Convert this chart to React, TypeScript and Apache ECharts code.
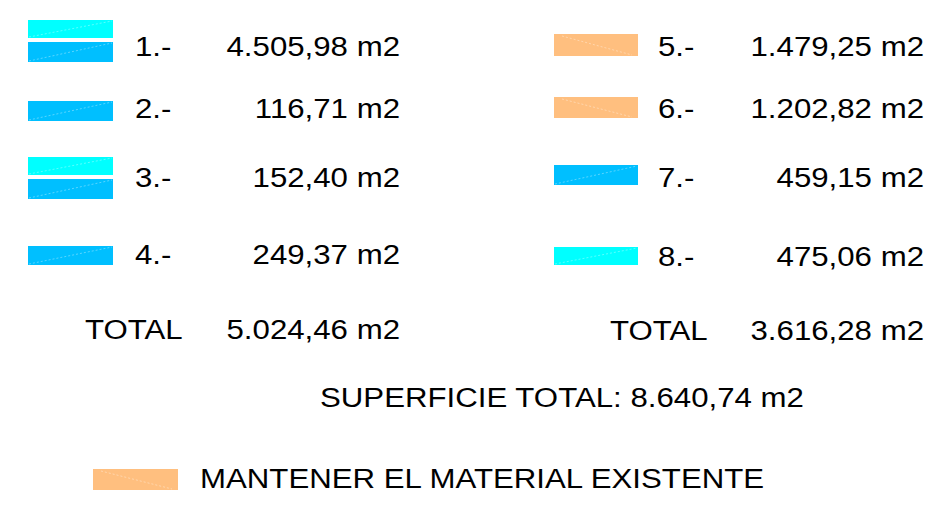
import React, { useEffect, useRef } from "react";
import * as echarts from "echarts";

// ---- data ----
const leftLabels = ["1.-", "2.-", "3.-", "4.-"];
const leftValues = ["4.505,98 m2", "116,71 m2", "152,40 m2", "249,37 m2"];
const leftSwatches = [["#00FFFF", "#00BFFF"], ["#00BFFF"], ["#00FFFF", "#00BFFF"], ["#00BFFF"]];
const rightLabels = ["5.-", "6.-", "7.-", "8.-"];
const rightValues = ["1.479,25 m2", "1.202,82 m2", "459,15 m2", "475,06 m2"];
const rightSwatches = [["#FFBF7F"], ["#FFBF7F"], ["#00BFFF"], ["#00FFFF"]];
const totalLabel = "TOTAL";
const leftTotal = "5.024,46 m2";
const rightTotal = "3.616,28 m2";
const grandTotal = "SUPERFICIE TOTAL: 8.640,74 m2";
const legendNote = "MANTENER EL MATERIAL EXISTENTE";
const legendNoteColor = "#FFBF7F";

// ---- layout ----
const FONT = "'Liberation Sans', Arial, Helvetica, sans-serif";
const FS = 28;
const SX = 1.115;
const rowTextY = [46, 108, 177, 254];
const rightRowTextY = [46, 108, 177, 256];
const leftSwatchY = [
  [[20, 38], [42, 62]],
  [[101, 121]],
  [[157, 175], [179, 199]],
  [[246, 265]],
];
const rightSwatchY = [[[34, 56]], [[97, 118]], [[165, 185]], [[247, 265]]];

function swatch(x0: number, x1: number, y0: number, y1: number, color: string) {
  const isOrange = color === "#FFBF7F";
  return [
    { type: "rect", shape: { x: x0, y: y0, width: x1 - x0, height: y1 - y0 }, style: { fill: color } },
    {
      type: "line",
      shape: isOrange
        ? { x1: x0 + 8, y1: y0 + 2, x2: x1 - 6, y2: y1 - 1 }
        : { x1: x0 + 1, y1: y1 - 1, x2: x1 - 1, y2: y0 + 1 },
      style: { stroke: "rgba(255,255,255,0.35)", lineWidth: 1, lineDash: [2, 2] },
    },
  ];
}

function text(x: number, y: number, t: string, align: string) {
  return {
    type: "text",
    x,
    y,
    scaleX: SX,
    style: {
      text: t,
      fill: "#000",
      font: `${FS}px ${FONT}`,
      textAlign: align,
      textVerticalAlign: "middle",
    },
  };
}

export default function App() {
  const ref = useRef<HTMLDivElement>(null);
  useEffect(() => {
    const chart = echarts.init(ref.current!, null, { renderer: "svg" });
    const els: any[] = [];
    leftLabels.forEach((lab, i) => {
      leftSwatches[i].forEach((c, j) => {
        const [y0, y1] = leftSwatchY[i][j];
        els.push(...swatch(28, 113, y0, y1, c));
      });
      els.push(text(135, rowTextY[i], lab, "left"));
      els.push(text(400, rowTextY[i], leftValues[i], "right"));
    });
    rightLabels.forEach((lab, i) => {
      rightSwatches[i].forEach((c, j) => {
        const [y0, y1] = rightSwatchY[i][j];
        els.push(...swatch(554, 638, y0, y1, c));
      });
      els.push(text(658, rightRowTextY[i], lab, "left"));
      els.push(text(924, rightRowTextY[i], rightValues[i], "right"));
    });
    els.push(text(85, 329, totalLabel, "left"));
    els.push(text(400, 329, leftTotal, "right"));
    els.push(text(610, 330, totalLabel, "left"));
    els.push(text(924, 330, rightTotal, "right"));
    els.push(text(320, 397, grandTotal, "left"));
    els.push(...swatch(93, 178, 469, 490, legendNoteColor));
    els.push(text(200, 478, legendNote, "left"));

    chart.setOption({
      animation: false,
      backgroundColor: "#fff",
      graphic: { elements: els },
    });
    return () => chart.dispose();
  }, []);
  return (
    <div
      ref={ref}
      style={{ position: "absolute", left: 0, top: 0, width: 944, height: 509 }}
    />
  );
}
